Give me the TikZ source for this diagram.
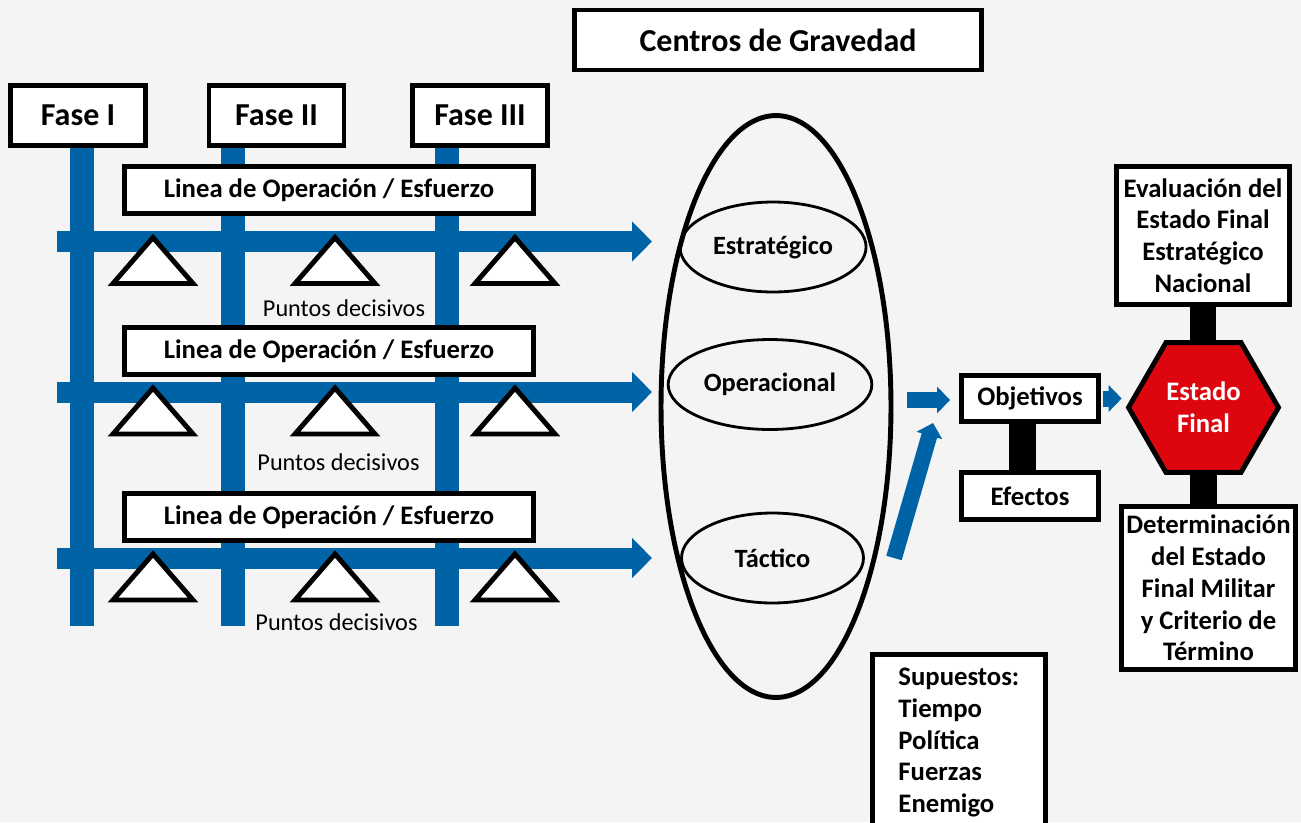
\documentclass[tikz,border=0pt]{standalone}
\usepackage{fontspec}
\setmainfont{Carlito}
\usetikzlibrary{calc}
\usetikzlibrary{arrows.meta,shapes.geometric}

\definecolor{opblue}{RGB}{0,99,166}
\definecolor{efred}{RGB}{222,6,14}
\definecolor{fondo}{RGB}{244,244,244}

\begin{document}
\begin{tikzpicture}[x=0.02cm, y=-0.02cm, > = {Triangle[width=7.8mm,length=4mm]},
  caja/.style={draw, line width=2.8pt, fill=white, align=center, inner sep=0pt,
    font=\fontsize{15.2}{18.1}\selectfont\bfseries},
  fase/.style={caja, minimum width=2.7cm, minimum height=1.2cm, font=\fontsize{18.2}{21}\selectfont\bfseries},
  linea/.style={caja, minimum width=8.18cm, minimum height=0.94cm},
  centro/.style={draw, ellipse, line width=1.6pt, minimum width=3.64cm, minimum height=1.8cm,
    font=\fontsize{15}{18}\selectfont\bfseries},
  decisivo/.style={font=\fontsize{13.8}{17}\selectfont},
  vbar/.style={opblue, line width=0.47cm},
  harrow/.style={opblue, line width=0.42cm, ->},
  sarrow/.style={opblue, line width=0.32cm, -{Triangle[width=5.2mm,length=2.6mm]}},
  blackbar/.style={black, line width=0.53cm},
  punto/.style={draw, line width=2.8pt, fill=white, line join=miter}]

\fill[fondo] (0,0) rectangle (1301,822);
\useasboundingbox (0,0) rectangle (1301,822);

\node[caja, minimum width=8.14cm, minimum height=1.2cm, font=\fontsize{18.2}{21}\selectfont\bfseries] (cdg) at (778,40) {Centros de Gravedad};

\node[fase] (f1) at (78,115.5) {Fase I};
\node[fase] (f2) at (276.5,115.5) {Fase II};
\node[fase] (f3) at (480,115.5) {Fase III};

\coordinate (f1b) at (82,626);
\coordinate (f2b) at (233,626);
\coordinate (f3b) at (447,626);
\draw[vbar] (f1b |- f1.south) -- (f1b);
\draw[vbar] (f2b |- f2.south) -- (f2b);
\draw[vbar] (f3b |- f3.south) -- (f3b);

\coordinate (h1s) at (57,241.5);
\coordinate (h1e) at (652,241.5);
\coordinate (h2s) at (57,392);
\coordinate (h2e) at (652,392);
\coordinate (h3s) at (57,558);
\coordinate (h3e) at (652,558);
\draw[harrow] (h1s) -- (h1e);
\draw[harrow] (h2s) -- (h2e);
\draw[harrow] (h3s) -- (h3e);

\node[linea] (lo1) at (329,190) {Linea de Operación / Esfuerzo};
\node[linea] (lo2) at (329,351) {Linea de Operación / Esfuerzo};
\node[linea] (lo3) at (329,517) {Linea de Operación / Esfuerzo};

% puntos decisivos
\draw[punto] (153,237.5) -- ++(-40,46) -- ++(80,0) -- cycle;
\draw[punto] (335,237.5) -- ++(-40,46) -- ++(80,0) -- cycle;
\draw[punto] (515,237.5) -- ++(-40,46) -- ++(80,0) -- cycle;
\draw[punto] (153,388) -- ++(-40,46) -- ++(80,0) -- cycle;
\draw[punto] (335,388) -- ++(-40,46) -- ++(80,0) -- cycle;
\draw[punto] (515,388) -- ++(-40,46) -- ++(80,0) -- cycle;
\draw[punto] (153,554) -- ++(-40,46) -- ++(80,0) -- cycle;
\draw[punto] (335,554) -- ++(-40,46) -- ++(80,0) -- cycle;
\draw[punto] (515,554) -- ++(-40,46) -- ++(80,0) -- cycle;

\node[decisivo] (pd1) at (344,308) {Puntos decisivos};
\node[decisivo] (pd2) at (338.5,462) {Puntos decisivos};
\node[decisivo] (pd3) at (336.5,622) {Puntos decisivos};

\node[draw, ellipse, line width=2.8pt, minimum width=4.6cm, minimum height=11.64cm] (cgel) at (776,406.5) {};
\node[centro] (est) at (773,247) {Estratégico};
\node[centro] (ope) at (770,384.5) {Operacional};
\node[centro] (tac) at (772.5,558) {Táctico};

\node[caja, minimum width=2.74cm, minimum height=0.92cm] (obj) at (1030,398.5) {Objetivos};
\node[caja, minimum width=2.74cm, minimum height=0.94cm] (efe) at (1030,496) {Efectos};
\draw[blackbar] ([xshift=-0.15cm]obj.south) -- ([xshift=-0.15cm]efe.north);

\node[regular polygon, regular polygon sides=6, draw, line width=2.8pt, fill=efred, text=white,
  minimum size=3.0cm, inner sep=0pt, align=center, font=\fontsize{15.2}{18.1}\selectfont\bfseries] (ef) at (1203.5,407.5) {Estado\\Final};

\node[caja, minimum width=3.46cm, minimum height=2.76cm] (eval) at (1203,235.5) {Evaluación del\\Estado Final\\Estratégico\\Nacional};
\node[caja, minimum width=3.48cm, minimum height=3.26cm] (det) at (1208.5,588) {Determinación\\del Estado\\Final Militar\\y Criterio de\\Término};
\draw[blackbar] (eval.south) -- (eval.south |- ef.north);
\draw[blackbar] (ef.south) -- (ef.south |- det.north);

\coordinate (opeout) at (907,400);
\coordinate (tacout) at (894,558);
\coordinate (tacin) at (933,423);
\draw[sarrow, shorten >=0.18cm] (opeout) -- (opeout -| obj.west);
\draw[sarrow] (tacout) -- (tacin);
\draw[sarrow, shorten <=0.04cm, shorten >=0.08cm] (obj.east) -- (obj.east -| ef.west);

\node[caja, anchor=north west, align=left, text width=2.42cm, inner xsep=0.52cm, inner ysep=0.27cm] (sup) at (870,652)
  {Supuestos:\\Tiempo\\Política\\Fuerzas\\Enemigo};

\end{tikzpicture}
\end{document}
